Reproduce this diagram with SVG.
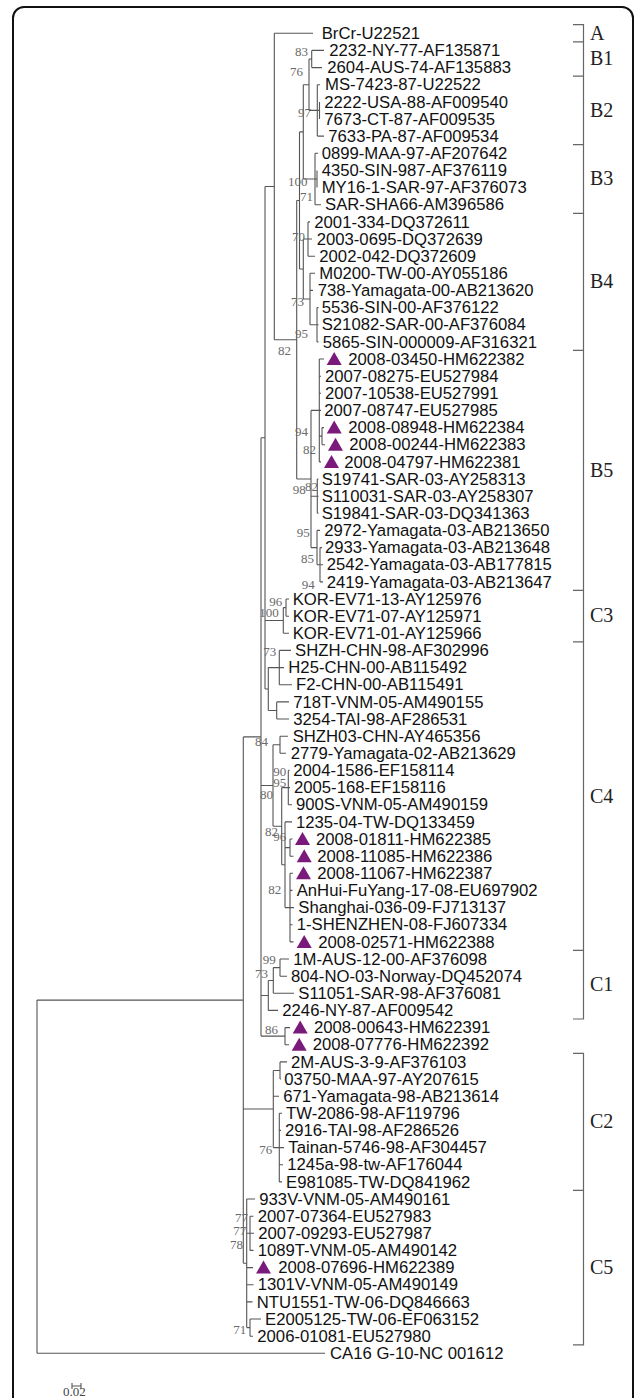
<svg xmlns="http://www.w3.org/2000/svg" xmlns:xlink="http://www.w3.org/1999/xlink" width="637" height="1398" viewBox="0 0 637 1398">
<style>
.lf{font-family:"Liberation Sans",Arial,sans-serif;font-size:16.7px;fill:#111}
.bs{font-family:"Liberation Serif","Times New Roman",serif;font-size:13px;fill:#6a6a6a}
.cl{font-family:"Liberation Serif","Times New Roman",serif;font-size:20px;fill:#222}
.tr{fill:none;stroke:#555;stroke-width:1.1}
.br{fill:none;stroke:#666;stroke-width:1.2}
.tri{fill:#7a1a7a}
</style>
<defs><path id="tri" d="M0,6 L15,6 L7.5,-7Z"/></defs>
<rect x="13" y="7" width="620" height="1420" rx="11" fill="#fff" stroke="#111" stroke-width="2"/>
<g id="connectors" class="tr">
<path d="M311.7,50.4V67.6M311.7,50.4H324M311.7,67.6H322
M317.3,84.7V136.1M317.3,84.7H320M317.3,136.1H324M319.5,101.9V119M317.3,110.4H319.5
M309,59V110.4M309,59H311.7M309,110.4H317.3
M315,153.3V204.7M315,153.3H318M315,204.7H321M317,170.4V187.6M315,179H317
M303.3,84.7V179M303.3,84.7H309M303.3,179H315
M308,221.9V256.2M308,221.9H310M308,239H312M308,256.2H315
M317,307.6V341.9M317,307.6H318.5M317,324.7H318.5M317,341.9H318.5
M310,273.3V324.7M310,273.3H315M310,290.4H313M310,324.7H317
M303.3,239V299M303.3,239H308M303.3,299H310
M299.5,131.9V269M299.5,131.9H303.3M299.5,269H303.3
M322,427.6V444.7M322,427.6H324M322,444.7H325
M319.3,359V461.9M319.3,359H324M319.3,376.2H321M319.3,393.3H321M319.3,410.4H321M319.3,436.1H322M319.3,461.9H321
M317.3,479V513.3M317.3,479H318.5M317.3,496.2H318.5M317.3,513.3H318.5
M320,547.6V581.9M320,547.6H322M320,564.7H323M320,581.9H323
M317,530.4V564.7M317,530.4H320M317,564.7H320
M311,410.4V547.6M311,410.4H319.3M311,496.2H317.3M311,547.6H317
M296.7,200.5V479M296.7,200.5H299.5M296.7,479H311
M274.3,33.3V339.8M274.3,33.3H313M274.3,339.8H296.7
M286,599V616.2M286,599H289M286,616.2H289
M283.3,607.6V633.3M283.3,607.6H286M283.3,633.3H289
M279.3,650.4V684.7M279.3,650.4H291M279.3,667.6H284M279.3,684.7H292
M276.7,701.9V719M276.7,701.9H289M276.7,719H289
M268.3,667.6V710.5M268.3,667.6H279.3M268.3,710.5H276.7
M265,186.5V689M265,186.5H274.3M265,620.5H283.3M265,689H268.3
M280,736.2V753.3M280,736.2H288M280,753.3H286
M288.3,770.4V804.7M288.3,770.4H289.5M288.3,787.6H290M288.3,804.7H292
M290,839V856.2M290,839H292.5M290,856.2H293.5
M290,873.3V941.9M290,873.3H293M290,890.4H292.5M290,907.6H294M290,924.7H292.5M290,941.9H293.5
M285,821.9V907.6M285,821.9H292M285,847.6H290M285,907.6H290
M281.7,787.6V864.8M281.7,787.6H288.3M281.7,864.8H285
M273,744.8V826.2M273,744.8H280M273,826.2H281.7
M280,959V976.2M280,959H289M280,976.2H287
M273.3,967.6V993.3M273.3,967.6H280M273.3,993.3H294
M268.3,980.5V1010.4M268.3,980.5H273.3M268.3,1010.4H278
M285,1027.6V1044.7M285,1027.6H290M285,1044.7H289
M261,437.8V1036.1M261,437.8H265M261,785.5H273M261,995.5H268.3M261,1036.1H285
M280,1061.9V1079M280,1061.9H287M280,1079H281
M279.3,1113.3V1181.9M279.3,1113.3H282M279.3,1130.4H281M279.3,1147.6H284M279.3,1164.7H283M279.3,1181.9H282
M273.3,1070.5V1147.6M273.3,1070.5H280M273.3,1096.2H279M273.3,1147.6H279.3
M250,1216.2V1250.4M250,1216.2H253.5M250,1233.3H254M250,1250.4H253.5
M250,1319V1336.2M250,1319H261M250,1336.2H253
M246.7,1199V1327.6M246.7,1199H255M246.7,1233.3H250M246.7,1267.6H253M246.7,1284.7H253.5M246.7,1301.9H252.5M246.7,1327.6H250
M243.3,736.9V1263.3M243.3,736.9H261M243.3,1109H273.3M243.3,1263.3H246.7
M37,1000.1V1353.3M37,1000.1H243.3M37,1353.3H325"/>
</g>
<g id="leaves">
<g id="L1"><text class="lf" x="321.7" y="39">BrCr-U22521</text></g>
<g id="L2"><text class="lf" x="329.3" y="56">2232-NY-77-AF135871</text></g>
<g id="L3"><text class="lf" x="327.3" y="73.2">2604-AUS-74-AF135883</text></g>
<g id="L4"><text class="lf" x="325" y="90.3">MS-7423-87-U22522</text></g>
<g id="L5"><text class="lf" x="324.3" y="107.5">2222-USA-88-AF009540</text></g>
<g id="L6"><text class="lf" x="324.3" y="124.6">7673-CT-87-AF009535</text></g>
<g id="L7"><text class="lf" x="328.3" y="141.7">7633-PA-87-AF009534</text></g>
<g id="L8"><text class="lf" x="321.7" y="158.9">0899-MAA-97-AF207642</text></g>
<g id="L9"><text class="lf" x="321.7" y="176">4350-SIN-987-AF376119</text></g>
<g id="L10"><text class="lf" x="321.7" y="193.2">MY16-1-SAR-97-AF376073</text></g>
<g id="L11"><text class="lf" x="325" y="210.3">SAR-SHA66-AM396586</text></g>
<g id="L12"><text class="lf" x="314.3" y="227.5">2001-334-DQ372611</text></g>
<g id="L13"><text class="lf" x="316.7" y="244.6">2003-0695-DQ372639</text></g>
<g id="L14"><text class="lf" x="319.3" y="261.8">2002-042-DQ372609</text></g>
<g id="L15"><text class="lf" x="319.3" y="278.9">M0200-TW-00-AY055186</text></g>
<g id="L16"><text class="lf" x="317.7" y="296">738-Yamagata-00-AB213620</text></g>
<g id="L17"><text class="lf" x="321.7" y="313.2">5536-SIN-00-AF376122</text></g>
<g id="L18"><text class="lf" x="321.7" y="330.3">S21082-SAR-00-AF376084</text></g>
<g id="L19"><text class="lf" x="322.7" y="347.5">5865-SIN-000009-AF316321</text></g>
<g id="L20"><use href="#tri" class="tri" x="326.7" y="359"/><text class="lf" x="348.3" y="364.6">2008-03450-HM622382</text></g>
<g id="L21"><text class="lf" x="325" y="381.8">2007-08275-EU527984</text></g>
<g id="L22"><text class="lf" x="325" y="398.9">2007-10538-EU527991</text></g>
<g id="L23"><text class="lf" x="324.3" y="416">2007-08747-EU527985</text></g>
<g id="L24"><use href="#tri" class="tri" x="326.7" y="427.6"/><text class="lf" x="348.3" y="433.2">2008-08948-HM622384</text></g>
<g id="L25"><use href="#tri" class="tri" x="328" y="444.7"/><text class="lf" x="349.3" y="450.3">2008-00244-HM622383</text></g>
<g id="L26"><use href="#tri" class="tri" x="324" y="461.9"/><text class="lf" x="344.3" y="467.5">2008-04797-HM622381</text></g>
<g id="L27"><text class="lf" x="321.7" y="484.6">S19741-SAR-03-AY258313</text></g>
<g id="L28"><text class="lf" x="321.7" y="501.8">S110031-SAR-03-AY258307</text></g>
<g id="L29"><text class="lf" x="321.7" y="518.9">S19841-SAR-03-DQ341363</text></g>
<g id="L30"><text class="lf" x="324.3" y="536">2972-Yamagata-03-AB213650</text></g>
<g id="L31"><text class="lf" x="325" y="553.2">2933-Yamagata-03-AB213648</text></g>
<g id="L32"><text class="lf" x="326.7" y="570.3">2542-Yamagata-03-AB177815</text></g>
<g id="L33"><text class="lf" x="326.7" y="587.5">2419-Yamagata-03-AB213647</text></g>
<g id="L34"><text class="lf" x="292.7" y="604.6">KOR-EV71-13-AY125976</text></g>
<g id="L35"><text class="lf" x="292.7" y="621.8">KOR-EV71-07-AY125971</text></g>
<g id="L36"><text class="lf" x="292.7" y="638.9">KOR-EV71-01-AY125966</text></g>
<g id="L37"><text class="lf" x="295" y="656">SHZH-CHN-98-AF302996</text></g>
<g id="L38"><text class="lf" x="288.3" y="673.2">H25-CHN-00-AB115492</text></g>
<g id="L39"><text class="lf" x="296" y="690.3">F2-CHN-00-AB115491</text></g>
<g id="L40"><text class="lf" x="293.3" y="707.5">718T-VNM-05-AM490155</text></g>
<g id="L41"><text class="lf" x="293.3" y="724.6">3254-TAI-98-AF286531</text></g>
<g id="L42"><text class="lf" x="292.7" y="741.8">SHZH03-CHN-AY465356</text></g>
<g id="L43"><text class="lf" x="290.7" y="758.9">2779-Yamagata-02-AB213629</text></g>
<g id="L44"><text class="lf" x="293.3" y="776">2004-1586-EF158114</text></g>
<g id="L45"><text class="lf" x="294" y="793.2">2005-168-EF158116</text></g>
<g id="L46"><text class="lf" x="296" y="810.3">900S-VNM-05-AM490159</text></g>
<g id="L47"><text class="lf" x="296" y="827.5">1235-04-TW-DQ133459</text></g>
<g id="L48"><use href="#tri" class="tri" x="295" y="839"/><text class="lf" x="316" y="844.6">2008-01811-HM622385</text></g>
<g id="L49"><use href="#tri" class="tri" x="296.7" y="856.2"/><text class="lf" x="317.3" y="861.8">2008-11085-HM622386</text></g>
<g id="L50"><use href="#tri" class="tri" x="296" y="873.3"/><text class="lf" x="317.3" y="878.9">2008-11067-HM622387</text></g>
<g id="L51"><text class="lf" x="296.7" y="896">AnHui-FuYang-17-08-EU697902</text></g>
<g id="L52"><text class="lf" x="298.3" y="913.2">Shanghai-036-09-FJ713137</text></g>
<g id="L53"><text class="lf" x="296.7" y="930.3">1-SHENZHEN-08-FJ607334</text></g>
<g id="L54"><use href="#tri" class="tri" x="296.7" y="941.9"/><text class="lf" x="318.3" y="947.5">2008-02571-HM622388</text></g>
<g id="L55"><text class="lf" x="293.3" y="964.6">1M-AUS-12-00-AF376098</text></g>
<g id="L56"><text class="lf" x="291" y="981.8">804-NO-03-Norway-DQ452074</text></g>
<g id="L57"><text class="lf" x="298.3" y="998.9">S11051-SAR-98-AF376081</text></g>
<g id="L58"><text class="lf" x="282.3" y="1016">2246-NY-87-AF009542</text></g>
<g id="L59"><use href="#tri" class="tri" x="292.7" y="1027.6"/><text class="lf" x="314" y="1033.2">2008-00643-HM622391</text></g>
<g id="L60"><use href="#tri" class="tri" x="291.7" y="1044.7"/><text class="lf" x="312.7" y="1050.3">2008-07776-HM622392</text></g>
<g id="L61"><text class="lf" x="291" y="1067.5">2M-AUS-3-9-AF376103</text></g>
<g id="L62"><text class="lf" x="284.3" y="1084.6">03750-MAA-97-AY207615</text></g>
<g id="L63"><text class="lf" x="283.3" y="1101.8">671-Yamagata-98-AB213614</text></g>
<g id="L64"><text class="lf" x="286" y="1118.9">TW-2086-98-AF119796</text></g>
<g id="L65"><text class="lf" x="285" y="1136">2916-TAI-98-AF286526</text></g>
<g id="L66"><text class="lf" x="288.3" y="1153.2">Tainan-5746-98-AF304457</text></g>
<g id="L67"><text class="lf" x="287.3" y="1170.3">1245a-98-tw-AF176044</text></g>
<g id="L68"><text class="lf" x="286" y="1187.5">E981085-TW-DQ841962</text></g>
<g id="L69"><text class="lf" x="259.3" y="1204.6">933V-VNM-05-AM490161</text></g>
<g id="L70"><text class="lf" x="257.7" y="1221.8">2007-07364-EU527983</text></g>
<g id="L71"><text class="lf" x="258.3" y="1238.9">2007-09293-EU527987</text></g>
<g id="L72"><text class="lf" x="257.7" y="1256">1089T-VNM-05-AM490142</text></g>
<g id="L73"><use href="#tri" class="tri" x="256" y="1267.6"/><text class="lf" x="278.3" y="1273.2">2008-07696-HM622389</text></g>
<g id="L74"><text class="lf" x="257.7" y="1290.3">1301V-VNM-05-AM490149</text></g>
<g id="L75"><text class="lf" x="256.7" y="1307.5">NTU1551-TW-06-DQ846663</text></g>
<g id="L76"><text class="lf" x="265" y="1324.6">E2005125-TW-06-EF063152</text></g>
<g id="L77"><text class="lf" x="257.3" y="1341.8">2006-01081-EU527980</text></g>
<g id="L78"><text class="lf" x="330" y="1358.9">CA16 G-10-NC 001612</text></g>
</g>
<g id="bootstrap" class="bs">
<text x="295" y="56">83</text>
<text x="290" y="76">76</text>
<text x="298" y="117">97</text>
<text x="288" y="186">100</text>
<text x="300" y="201">71</text>
<text x="292" y="241">70</text>
<text x="291" y="306">73</text>
<text x="295" y="338">95</text>
<text x="278" y="355">82</text>
<text x="295" y="436">94</text>
<text x="303" y="454">82</text>
<text x="292.7" y="494">98</text>
<text x="305" y="491">82</text>
<text x="296.7" y="537">95</text>
<text x="301" y="563">85</text>
<text x="301.7" y="589">94</text>
<text x="269.3" y="606">96</text>
<text x="259.3" y="617">100</text>
<text x="263.3" y="656">73</text>
<text x="255" y="746">84</text>
<text x="273.3" y="776">90</text>
<text x="273.3" y="787">95</text>
<text x="260" y="799">80</text>
<text x="265" y="836">82</text>
<text x="273.3" y="841">96</text>
<text x="268.3" y="894">82</text>
<text x="262.7" y="964">99</text>
<text x="255" y="978">73</text>
<text x="265" y="1034">86</text>
<text x="259.3" y="1154">76</text>
<text x="235" y="1222">77</text>
<text x="233.3" y="1235">77</text>
<text x="230" y="1249">78</text>
<text x="233.3" y="1334">71</text>
</g>
<g id="clades">
<path class="br" d="M573,24.7H583.5V1019H573M573,41.9H583.5M573,76.2H583.5M573,144.7H583.5M573,213.3H583.5M573,350.4H583.5M573,590.4H583.5M573,641.9H583.5M573,950.4H583.5M573,1053.3H583.5V1344.8H573M573,1190.4H583.5"/>
<text class="cl" x="590" y="40">A</text>
<text class="cl" x="590" y="65">B1</text>
<text class="cl" x="590" y="117">B2</text>
<text class="cl" x="590" y="185">B3</text>
<text class="cl" x="590" y="288">B4</text>
<text class="cl" x="590" y="477">B5</text>
<text class="cl" x="590" y="622">C3</text>
<text class="cl" x="590" y="803">C4</text>
<text class="cl" x="590" y="991">C1</text>
<text class="cl" x="590" y="1128">C2</text>
<text class="cl" x="590" y="1274">C5</text>
</g>
<g id="scale">
<path class="tr" d="M72,1386H81M72,1383V1389M81,1383V1389"/>
<text class="bs" x="63" y="1396" style="fill:#444">0.02</text>
</g>
</svg>
